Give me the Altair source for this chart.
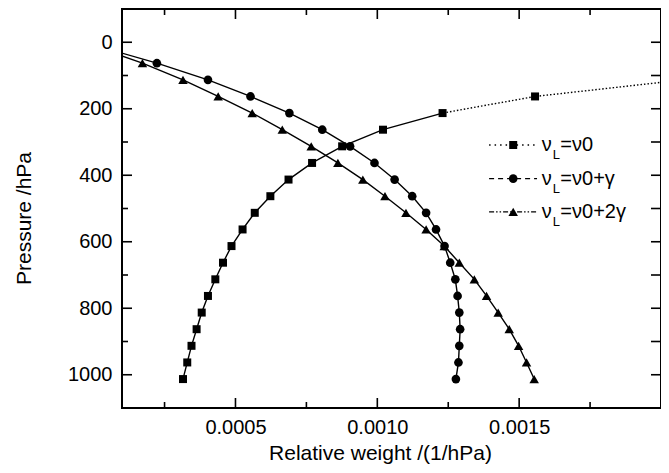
import altair as alt
import pandas as pd

# ---------------- data ----------------
sq_p = [1013, 963, 913, 863, 813, 763, 713, 663, 613, 563, 513, 463, 413, 363, 313, 263, 213, 163, 113]
sq_w = [0.000315, 0.000330, 0.000345, 0.000363, 0.000381, 0.000403, 0.000429, 0.000456, 0.000486,
        0.000525, 0.000568, 0.000623, 0.000687, 0.000770, 0.000876, 0.001020, 0.001230, 0.001556, 0.00208]

ci_p = [1013, 963, 913, 863, 813, 763, 713, 663, 613, 563, 513, 463, 413, 363, 313, 263, 213, 163, 113, 63, 13]
ci_w = [0.001277, 0.001286, 0.001289, 0.001292, 0.001289, 0.001283, 0.001275, 0.001257, 0.001237,
        0.001207, 0.001172, 0.001123, 0.001061, 0.000990, 0.000904, 0.000806, 0.000690, 0.000553,
        0.000403, 0.000223, 0.000020]

tr_p = [1013, 963, 913, 863, 813, 763, 713, 663, 613, 563, 513, 463, 413, 363, 313, 263, 213, 163, 113, 63, 13]
tr_w = [0.001553, 0.001526, 0.001498, 0.001465, 0.001426, 0.001385, 0.001342, 0.001289, 0.001236,
        0.001172, 0.001101, 0.001027, 0.000949, 0.000861, 0.000767, 0.000665, 0.000559, 0.000439,
        0.000315, 0.000172, 0.000005]

x_major = [0.0005, 0.0010, 0.0015]
x_minor = [0.00025, 0.00075, 0.00125, 0.00175]
y_major = [0, 200, 400, 600, 800, 1000]
y_minor = [100, 300, 500, 700, 900]

leg_p = [309, 410, 510]
leg_rest = ["=ν0", "=ν0+γ", "=ν0+2γ"]
leg_shape = ["square", "circle", "triangle-up"]
leg_x0, leg_x1, leg_xm, leg_xt = 0.001394, 0.001563, 0.001479, 0.00158

# ---------------- styling ----------------
W, H = 539, 399
FONT = "Liberation Sans"
xs = alt.Scale(domain=[0.0001, 0.002], nice=False, zero=False)
ys = alt.Scale(domain=[-100, 1100], nice=False, zero=False, reverse=True)
xaxis = alt.Axis(values=x_major, format=".4f", ticks=False, domain=False, grid=False,
                 labelPadding=9, labelFontSize=20, labelFont=FONT, labelColor="black",
                 title="Relative weight /(1/hPa)", titleFontSize=21, titleFont=FONT,
                 titleFontWeight="normal", titleColor="black", titleY=51, titleX=258,
                 titleAlign="center", titleBaseline="alphabetic")
yaxis = alt.Axis(values=y_major, format="d", ticks=False, domain=False, grid=False,
                 labelPadding=10, labelFontSize=20, labelFont=FONT, labelColor="black",
                 title="Pressure /hPa", titleFontSize=21, titleFont=FONT,
                 titleFontWeight="normal", titleColor="black", titleX=-92, titleY=209,
                 titleAngle=-90, titleBaseline="alphabetic", titleAlign="center")


def X(f):
    return alt.X(f, type="quantitative", scale=xs, axis=xaxis)


def Y(f):
    return alt.Y(f, type="quantitative", scale=ys, axis=yaxis)


sq = pd.DataFrame({"p": sq_p, "w": sq_w})
ci = pd.DataFrame({"p": ci_p, "w": ci_w})
tr = pd.DataFrame({"p": tr_p, "w": tr_w})
sq_solid = sq[sq.p >= 213]
sq_dot = sq[sq.p <= 213]

SIZES = {"square": 64, "circle": 75, "triangle-up": 90}
LW = 1.4
layers = []
layers.append(alt.Chart(sq_solid).mark_line(color="black", strokeWidth=LW, clip=True)
              .encode(x=X("w"), y=Y("p"), order="p:Q"))
layers.append(alt.Chart(sq_dot).mark_line(color="black", strokeWidth=LW, strokeDash=[1.5, 2], clip=True)
              .encode(x=X("w"), y=Y("p"), order="p:Q"))
layers.append(alt.Chart(ci).mark_line(color="black", strokeWidth=LW, clip=True)
              .encode(x=X("w"), y=Y("p"), order="p:Q"))
layers.append(alt.Chart(tr).mark_line(color="black", strokeWidth=LW, clip=True)
              .encode(x=X("w"), y=Y("p"), order="p:Q"))
for df, shp in [(sq, "square"), (ci, "circle"), (tr, "triangle-up")]:
    layers.append(alt.Chart(df).mark_point(shape=shp, filled=True, size=SIZES[shp], color="black",
                                           opacity=1, clip=True)
                  .encode(x=X("w"), y=Y("p")))

# inward ticks
txM = pd.DataFrame({"v": x_major})
txm = pd.DataFrame({"v": x_minor})
tyM = pd.DataFrame({"v": y_major})
tym = pd.DataFrame({"v": y_minor})
tyall = pd.DataFrame({"v": sorted(y_major + y_minor)})
TW = 1.6
for df, ln in [(txM, 10), (txm, 6)]:
    layers.append(alt.Chart(df).mark_rule(color="black", strokeWidth=TW)
                  .encode(x=X("v"), y=alt.value(H), y2=alt.value(H - ln)))
    layers.append(alt.Chart(df).mark_rule(color="black", strokeWidth=TW)
                  .encode(x=X("v"), y=alt.value(0), y2=alt.value(ln)))
for df, ln in [(tyM, 10), (tym, 6)]:
    layers.append(alt.Chart(df).mark_rule(color="black", strokeWidth=TW)
                  .encode(y=Y("v"), x=alt.value(0), x2=alt.value(ln)))
layers.append(alt.Chart(tyall).mark_rule(color="black", strokeWidth=TW)
              .encode(y=Y("v"), x=alt.value(W), x2=alt.value(W - 10)))

# legend
dashes = [[1.5, 4], [5, 4], [5, 2, 1.5, 2, 1.5, 2]]
for i in range(3):
    d = pd.DataFrame({"x0": [leg_x0], "x1": [leg_x1], "xm": [leg_xm], "xt": [leg_xt],
                      "p": [leg_p[i]], "nu": ["ν"], "sub": ["L"], "rest": [leg_rest[i]]})
    layers.append(alt.Chart(d).mark_rule(color="black", strokeWidth=1.3, strokeDash=dashes[i])
                  .encode(x=X("x0"), x2="x1", y=Y("p")))
    layers.append(alt.Chart(d).mark_point(shape=leg_shape[i], filled=True, size=SIZES[leg_shape[i]],
                                          color="black", opacity=1)
                  .encode(x=X("xm"), y=Y("p")))
    layers.append(alt.Chart(d).mark_text(align="left", baseline="middle", fontSize=20, font=FONT, color="black")
                  .encode(x=X("xt"), y=Y("p"), text="nu:N"))
    layers.append(alt.Chart(d).mark_text(align="left", baseline="middle", fontSize=13, font=FONT, color="black",
                                         dx=11, dy=10.5)
                  .encode(x=X("xt"), y=Y("p"), text="sub:N"))
    layers.append(alt.Chart(d).mark_text(align="left", baseline="middle", fontSize=20, font=FONT, color="black",
                                         dx=18.5)
                  .encode(x=X("xt"), y=Y("p"), text="rest:N"))

chart = alt.layer(*layers).properties(
    width=W, height=H,
    autosize=alt.AutoSizeParams(type="none"),
    padding={"left": 114, "top": 1, "right": 0, "bottom": 57},
    background="white",
).configure_view(stroke="black", strokeWidth=2)

chart.save("out.html", embed_options={"renderer": "svg", "actions": False})
